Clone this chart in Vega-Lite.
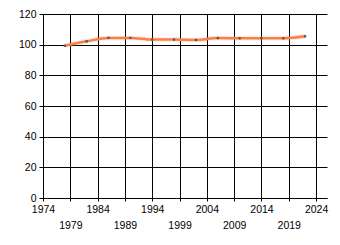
{
  "$schema": "https://vega.github.io/schema/vega-lite/v6.json",
  "autosize": {"type": "none"},
  "width": 284,
  "height": 184,
  "padding": {"left": 43, "top": 14, "right": 13, "bottom": 47},
  "background": "white",
  "config": {
    "view": {"stroke": null},
    "axis": {
      "labelFont": "Liberation Sans",
      "labelFontSize": 10.5,
      "labelColor": "#000000",
      "domainColor": "#000000",
      "tickColor": "#000000",
      "gridColor": "#000000",
      "gridOpacity": 1,
      "gridWidth": 1,
      "domainWidth": 1,
      "tickWidth": 1,
      "title": null
    }
  },
  "data": {
    "values": [
      {"year": 1978, "value": 99.3},
      {"year": 1982, "value": 102.2},
      {"year": 1986, "value": 104.4},
      {"year": 1990, "value": 104.4},
      {"year": 1994, "value": 103.3},
      {"year": 1998, "value": 103.3},
      {"year": 2002, "value": 103.1},
      {"year": 2006, "value": 104.3},
      {"year": 2010, "value": 104.2},
      {"year": 2014, "value": 104.2},
      {"year": 2018, "value": 104.2},
      {"year": 2022, "value": 105.5}
    ]
  },
  "encoding": {
    "x": {
      "field": "year",
      "type": "quantitative",
      "scale": {"domain": [1974, 2026], "nice": false, "zero": false},
      "axis": {
        "values": [1974, 1979, 1984, 1989, 1994, 1999, 2004, 2009, 2014, 2019, 2024],
        "grid": true,
        "tickSize": 3,
        "labelPadding": 3,
        "labelFlush": false,
        "labelOverlap": false,
        "labelLineHeight": 16,
        "labelBaseline": "top",
        "labelExpr": "(datum.value - 1974) % 10 == 5 ? ['', datum.label] : datum.label",
        "format": "d"
      }
    },
    "y": {
      "field": "value",
      "type": "quantitative",
      "scale": {"domain": [0, 120], "nice": false},
      "axis": {
        "values": [0, 20, 40, 60, 80, 100, 120],
        "grid": true,
        "tickSize": 4,
        "labelPadding": 3,
        "labelFlush": false,
        "labelOverlap": false
      }
    }
  },
  "layer": [
    {
      "mark": {"type": "line", "color": "#999999", "strokeWidth": 5, "opacity": 0.15, "interpolate": "monotone"}
    },
    {
      "mark": {"type": "line", "color": "#FF7F40", "strokeWidth": 2.5, "interpolate": "monotone"}
    },
    {
      "mark": {"type": "point", "shape": "square", "filled": true, "size": 5, "color": "#555555", "opacity": 1}
    }
  ]
}
